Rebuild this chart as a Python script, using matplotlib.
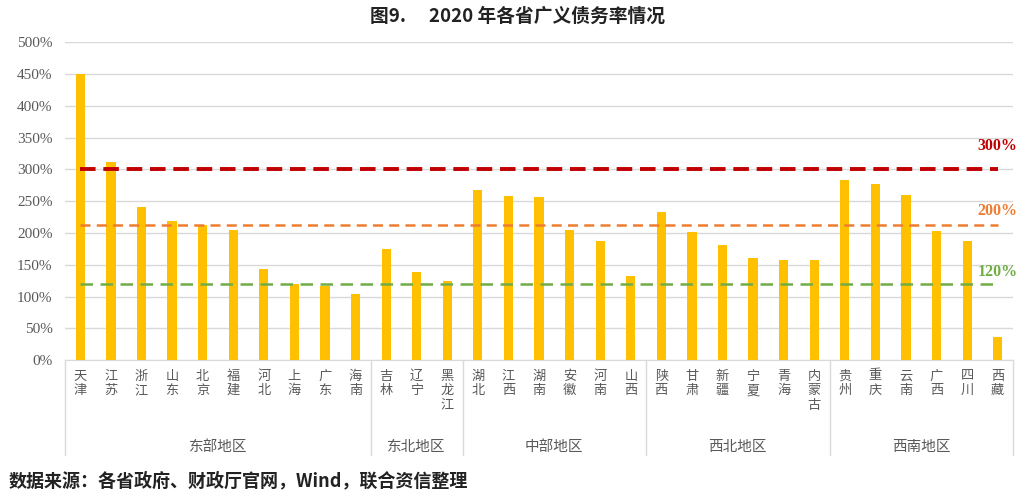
import matplotlib.pyplot as plt
import matplotlib.transforms as mtransforms

plt.rcParams['font.family'] = ['Noto Sans CJK SC', 'DejaVu Sans']

# data (debt ratio, %)
provinces = ["天津", "江苏", "浙江", "山东", "北京", "福建", "河北", "上海", "广东", "海南",
             "吉林", "辽宁", "黑龙江",
             "湖北", "江西", "湖南", "安徽", "河南", "山西",
             "陕西", "甘肃", "新疆", "宁夏", "青海", "内蒙古",
             "贵州", "重庆", "云南", "广西", "四川", "西藏"]
ratios = [450, 312, 241, 218, 213, 204, 143, 119, 116, 104,
          174, 138, 125,
          267, 258, 257, 205, 187, 132,
          233, 202, 181, 161, 157, 157,
          283, 277, 260, 203, 188, 36]
regions = ["东部地区", "东北地区", "中部地区", "西北地区", "西南地区"]
region_sizes = [10, 3, 6, 6, 6]
ref_values = [300, 212, 120]
ref_labels = ["300%", "200%", "120%"]
ref_label_pos = [337, 234, 138]

fig = plt.figure(figsize=(10.36, 4.96), dpi=100)
ax = fig.add_axes([0.0628, 0.274, 0.915, 0.641])

x = list(range(len(provinces)))
ax.bar(x, ratios, width=0.3, color="#FFC000", zorder=3)

# reference lines
ref_styles = [
    dict(color="#C00000", lw=2.8, dashes=(4, 2)),
    dict(color="#ED7D31", lw=1.8, dashes=(4, 2.5)),
    dict(color="#70AD47", lw=1.8, dashes=(5, 3)),
]
for val, st in zip(ref_values, ref_styles):
    ax.plot(x, [val] * len(x), zorder=4, **st)
for lab, pos, st in zip(ref_labels, ref_label_pos, ref_styles):
    ax.text(x[-1], pos, lab, color=st["color"], ha="center", va="center",
            fontsize=11.5, fontweight="bold", family="Liberation Serif", zorder=5)

ax.set_xlim(-0.5, len(x) - 0.5)
ax.set_ylim(0, 500)
ax.set_yticks(range(0, 501, 50))
ax.set_yticklabels([f"{v}%" for v in range(0, 501, 50)],
                   family="Liberation Serif", fontsize=11, color="#595959")
ax.tick_params(axis="y", length=0, pad=9)
ax.set_xticks([])
ax.grid(axis="y", color="#D9D9D9", lw=1, zorder=0)
for s in ["top", "right", "left"]:
    ax.spines[s].set_visible(False)
ax.spines["bottom"].set_color("#D9D9D9")

# category labels (vertical stacked characters) and region brackets
trans = mtransforms.blended_transform_factory(ax.transData, ax.transAxes)
for i, name in enumerate(provinces):
    ax.text(i, -0.03, "\n".join(name), transform=trans, ha="center", va="top",
            fontsize=9.5, color="#595959", linespacing=1.15)

start = 0
bounds = [-0.5]
for reg, n in zip(regions, region_sizes):
    mid = start + (n - 1) / 2
    ax.text(mid, -0.272, reg, transform=trans, ha="center", va="center",
            fontsize=10.5, color="#595959")
    start += n
    bounds.append(start - 0.5)
for b in bounds:
    ax.plot([b, b], [0, -0.3], transform=trans, color="#D9D9D9", lw=1, clip_on=False)

fig.text(0.5, 0.967, "图9.\u3000 2020 年各省广义债务率情况", ha="center", va="center",
         fontsize=13.5, fontweight="bold", color="#222222")
fig.text(0.008, 0.03, "数据来源：各省政府、财政厅官网，Wind，联合资信整理", ha="left", va="center",
         fontsize=13, fontweight="bold", color="#222222")

fig.savefig("out.png", dpi=100)
